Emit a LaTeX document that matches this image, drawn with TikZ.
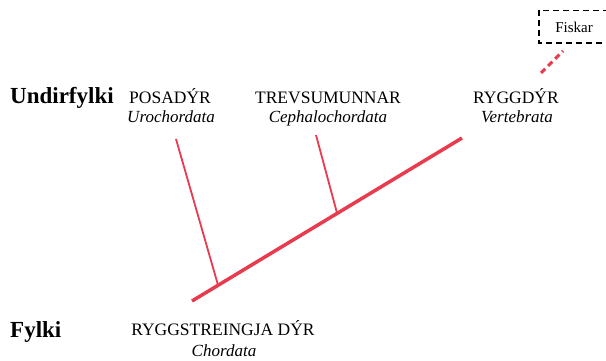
\documentclass[tikz,border=0pt]{standalone}
\usepackage{fontspec}
\setmainfont{Liberation Serif}
\definecolor{cladered}{RGB}{232,59,78}
\begin{document}
\begin{tikzpicture}[x=1pt,y=-1pt,
  rank/.style={font=\fontsize{23}{26}\selectfont\bfseries, anchor=base west, inner sep=0pt},
  taxon/.style={font=\fontsize{17.5}{20}\selectfont, anchor=base, inner sep=0pt},
  latin/.style={font=\fontsize{17}{20}\selectfont\itshape, anchor=base, inner sep=0pt},
  stem/.style={draw=cladered, line width=3.5pt},
  branch/.style={draw=cladered, line width=1.8pt},
  outgroup/.style={draw=cladered, line width=3pt, dash pattern=on 6pt off 4pt},
  extbox/.style={minimum width=70pt, minimum height=32pt, font=\fontsize{15}{18}\selectfont, inner sep=0pt},
  extline/.style={draw=black, line width=1.4pt, dash pattern=on 6pt off 4pt}]
\useasboundingbox (0,0) rectangle (606,361);
% rank labels
\node[rank] (undir) at (10,103) {Undirfylki};
\node[rank] (fylki) at (10,337) {Fylki};
% taxa
\node[taxon] (posa) at (170,103) {POSADÝR};
\node[latin] (uro) at (171,123) {Urochordata};
\node[taxon] (trev) at (328,103) {TREVSUMUNNAR};
\node[latin] (ceph) at (328,123) {Cephalochordata};
\node[taxon] (rygg) at (516,103) {RYGGDÝR};
\node[latin] (vert) at (517,123) {Vertebrata};
\node[taxon] (chorn) at (223,335) {RYGGSTREINGJA DÝR};
\node[latin] (chor) at (224,356) {Chordata};
\node[extbox] (fisk) at (574,27) {Fiskar};
\draw[extline] ([xshift=30pt]fisk.north east) -- ([xshift=0pt]fisk.north west) -- (fisk.south west) -- ([xshift=30pt]fisk.south east);
% tree coordinates
\coordinate (root) at (192,301);
\coordinate (tip) at (462,138);
\coordinate (utop) at (176,139);
\coordinate (ujoin) at (218,285);
\coordinate (ctop) at (316,135);
\coordinate (cjoin) at (337,213);
\coordinate (fa) at (541,73);
\coordinate (fb) at (563,51);
% tree
\draw[stem, line cap=butt] (root) -- (tip);
\draw[branch] (utop) -- (ujoin);
\draw[branch] (ctop) -- (cjoin);
\draw[outgroup] (fa) -- (fb);
\end{tikzpicture}
\end{document}
